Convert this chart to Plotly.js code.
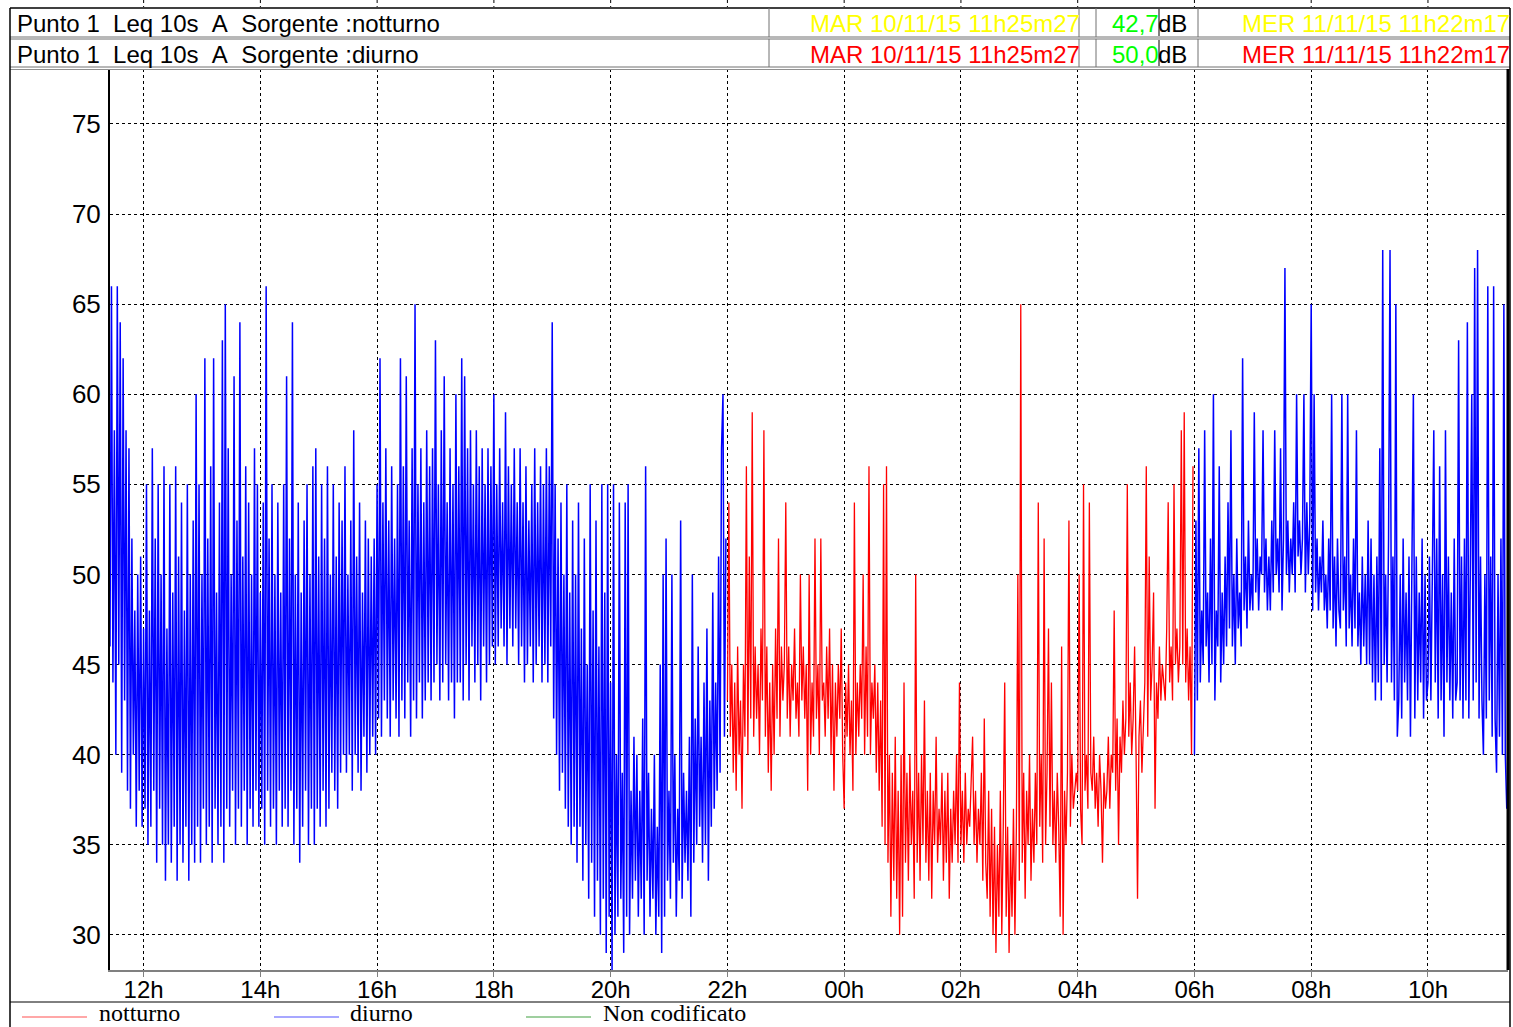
<!DOCTYPE html>
<html><head><meta charset="utf-8">
<script src="https://cdn.plot.ly/plotly-3.0.1.min.js"></script>
<style>html,body{margin:0;padding:0;background:#fff;overflow:hidden}#chart{width:1513px;height:1027px}</style>
</head><body><div id="chart"></div>
<script>
// ---- data (Leq 10s, dB(A)), one value every 90 s ----
const sampleStepH = 0.025;
const diurno1Start = 11.424;   // MAR 10/11/15 11h25m27
const notturnoStart = 22.0;
const diurno2Start = 30.0;     // 06h next day
const axisEnd = 35.371;        // MER 11/11/15 11h22m17

const diurno1 = [
46,66,44,58,40,66,45,64,39,62,43,58,38,57,37,52,40,48,36,50,
38,51,36,47,37,55,35,48,36,57,38,52,34,55,37,50,35,56,33,47,
35,55,34,49,36,56,33,51,35,54,34,48,36,55,33,50,35,53,34,60,
36,55,34,50,37,62,35,52,36,56,34,62,37,49,35,54,36,63,34,65,
37,57,36,50,38,61,35,53,37,64,36,51,38,56,35,54,37,50,36,57,
38,55,36,49,37,54,35,66,38,52,36,55,37,50,35,54,38,49,36,55,
37,61,36,52,38,64,35,50,37,54,34,49,36,53,38,55,35,50,37,56,
35,57,37,51,36,55,38,52,36,56,37,50,39,55,38,51,37,54,39,53,
40,56,39,50,40,53,38,58,40,51,39,54,38,49,41,53,39,52,40,51,
41,52,40,55,42,62,41,54,43,57,42,53,41,56,43,52,42,55,41,62,
43,56,42,61,44,53,41,57,43,65,42,55,44,57,42,54,43,58,44,56,
43,57,44,63,45,55,43,58,44,61,45,54,43,57,44,55,42,60,44,56,
44,62,43,61,45,57,43,58,46,55,44,58,45,56,43,57,46,55,44,57,
45,56,46,60,45,55,46,57,47,54,46,59,45,56,47,55,46,57,47,54,
45,57,46,54,44,56,45,53,46,55,44,57,45,54,46,56,44,55,45,57,
44,56,46,64,42,55,40,52,38,54,39,50,37,55,36,49,35,53,36,50,
34,54,36,47,33,52,35,45,32,55,34,48,31,53,33,46,30,55,32,49,
29,55,31,44,28,55,30,40,31,54,32,39,29,54,31,55,30,38,32,41,
33,40,31,38,32,42,30,56,33,39,31,37,32,40,30,36,31,45,29,50,
31,52,33,38,32,50,34,40,31,37,33,53,32,39,34,38,33,41,31,50,
34,42,35,46,36,41,34,44,35,47,33,43,36,49,37,44,38,51,39,57,
60,41,52];

const notturno = [
43,54,41,45,39,44,38,46,40,43,37,45,41,56,40,51,42,59,41,46,
42,45,40,47,43,58,41,46,39,44,38,45,40,47,42,52,41,46,43,45,
54,42,46,41,45,43,47,42,44,41,50,43,46,42,45,38,50,40,44,41,
52,42,45,40,52,43,44,41,46,42,47,40,45,38,44,41,45,42,47,40,
37,44,41,45,40,43,38,54,40,44,41,45,42,50,40,46,41,56,40,44,
42,45,39,44,38,43,36,55,35,56,34,40,31,39,33,41,32,38,30,40,
31,44,34,39,33,40,35,38,32,50,34,39,33,40,35,43,34,38,33,39,
32,38,35,41,34,37,35,39,33,38,34,39,32,37,34,38,35,40,34,44,
35,38,34,39,35,37,36,38,41,35,38,34,37,35,39,33,42,34,32,38,
31,37,30,36,29,35,31,38,30,36,44,31,36,29,35,31,37,30,36,50,
33,65,34,39,32,38,35,40,33,37,34,39,35,54,36,40,34,52,35,39,
47,36,44,35,38,34,39,36,31,46,30,38,35,39,53,36,40,37,38,39,
38,50,37,35,55,38,40,37,54,39,38,41,37,39,36,40,38,34,39,37,
38,41,37,40,39,48,38,42,35,41,39,43,40,42,55,41,44,40,42,46,
40,32,41,43,39,42,44,56,41,51,43,45,49,37,44,42,46,43,45,44,
43,47,54,44,46,43,55,45,47,44,46,58,45,59,44,47,43,46,40,56];

const diurno2 = [
40,53,43,57,44,48,45,58,46,49,44,52,45,60,43,48,46,56,44,49,
45,51,46,54,47,58,46,50,45,52,47,49,46,62,48,51,47,53,48,50,
48,59,49,52,48,51,50,58,49,52,48,51,48,53,49,58,50,52,49,57,
48,52,67,50,53,49,52,50,54,49,60,51,53,50,52,60,49,54,50,53,
65,48,60,49,52,48,51,49,53,48,50,47,52,48,60,47,51,46,52,48,
47,60,48,51,46,60,47,50,46,52,47,58,46,49,45,51,46,50,45,53,
45,52,44,50,43,51,44,57,43,68,45,50,44,52,68,44,51,43,65,41,
43,50,42,52,44,49,43,51,41,50,60,42,51,43,49,44,52,42,50,43,
44,51,43,50,58,44,52,42,56,43,50,41,58,44,51,43,49,42,52,43,
44,63,43,51,42,52,43,64,42,50,60,43,67,44,68,42,51,43,40,50,
42,66,43,51,41,66,42,39,50,41,52,40,65,40,37];

const tickHours = [12,14,16,18,20,22,24,26,28,30,32,34];
const tickLabels = ['12h','14h','16h','18h','20h','22h','00h','02h','04h','06h','08h','10h'];
const yTicks = [30,35,40,45,50,55,60,65,70,75];

const headerRows = [
  {label:'Punto 1  Leq 10s  A  Sorgente :notturno', start:'MAR 10/11/15 11h25m27', value:'42,7', unit:'dB', end:'MER 11/11/15 11h22m17', color:'#ffff00'},
  {label:'Punto 1  Leq 10s  A  Sorgente :diurno',   start:'MAR 10/11/15 11h25m27', value:'50,0', unit:'dB', end:'MER 11/11/15 11h22m17', color:'#ff0000'}
];
const legendNames = ['notturno','diurno','Non codificato'];
const legendColors = ['#ff5050','#5050ff','#40a040'];

// ---- layout helpers ----
const W = 1513, H = 1027, L = 110, R = 5, T = 69, B = 57;
const PW = W - L - R, PH = H - T - B;
const px = x => (x - L) / PW;
const py = y => (H - B - y) / PH;
const NARROW = '"Liberation Sans Narrow","Arial Narrow","Liberation Sans",Arial,sans-serif';
const SERIF = '"Liberation Serif","Times New Roman",serif';
const nb = s => s.replace(/ /g, '\u00a0');

const times = (start, arr) => arr.map((v, i) => start + i * sampleStepH);

const traces = [
  {x: times(diurno1Start, diurno1), y: diurno1, type:'scatter', mode:'lines', line:{color:'#0000ff', width:1.5}, hoverinfo:'skip', name:'diurno'},
  {x: times(notturnoStart, notturno), y: notturno, type:'scatter', mode:'lines', line:{color:'#ff0000', width:1.3}, hoverinfo:'skip', name:'notturno'},
  {x: times(diurno2Start, diurno2), y: diurno2, type:'scatter', mode:'lines', line:{color:'#0000ff', width:1.5}, hoverinfo:'skip', name:'diurno'}
];

const shapes = [];
const line = (x0,y0,x1,y1,color,width,dash) => shapes.push({type:'line', xref:'paper', yref:'paper',
  x0:px(x0), y0:py(y0), x1:px(x1), y1:py(y1), line:{color:color, width:width, dash:dash||'solid'}, layer:'above'});

// header frame
line(10,8,1510,8,'#404040',2);
line(10,37,1510,37,'#707070',1);
line(10,39,1510,39,'#707070',1);
line(10,67,1510,67,'#707070',1);
line(10,69.5,1510,69.5,'#909090',1);
const rowsY = [[8,37],[39,67]];
rowsY.forEach(([a,b]) => {
  [769,1079,1096,1198].forEach(x => line(x,a,x,b,'#707070',1));
  line(1159,a+1,1159,b-1,'#000000',1);
});
// outer frame
line(10,8,10,1027,'#000000',1.5);
line(1510,8,1510,1027,'#000000',1.5);
line(10,1002,1510,1002,'#000000',1);
// right border of plot
line(1508,69,1508,970,'#000000',3);
// legend samples
[[22,87],[274,339],[526,591]].forEach((s,i) => line(s[0],1017,s[1],1017,legendColors[i],1.2));
// grid stubs above header
tickHours.forEach(h => shapes.push({type:'line', xref:'x', yref:'paper', x0:h, x1:h, y0:py(0), y1:py(7),
  line:{color:'#000', width:1, dash:'dot'}}));

const annotations = [];
const txt = (text,x,y,anchor,color,size,family) => annotations.push({text:nb(text), xref:'paper', yref:'paper',
  x:px(x), y:py(y), xanchor:anchor, yanchor:'middle', showarrow:false,
  font:{family:family||NARROW, size:size||24, color:color||'#000'}});
headerRows.forEach((r,i) => {
  const yc = i === 0 ? 23 : 54;
  txt(r.label, 15, yc, 'left', '#000');
  txt(r.start, 1082, yc, 'right', r.color);
  txt(r.value, 1161, yc, 'right', '#00ff00');
  txt(r.unit, 1156, yc, 'left', '#000');
  txt(r.end, 1512, yc, 'right', r.color);
});
const legendX = [97, 348, 601];
legendNames.forEach((n,i) => txt(n, legendX[i], 1013, 'left', '#000', 24, SERIF));

const layout = {
  width: W, height: H,
  margin: {l:L, r:R, t:T, b:B, pad:0},
  paper_bgcolor:'#fff', plot_bgcolor:'#fff',
  showlegend:false,
  xaxis: {range:[diurno1Start, axisEnd], tickvals:tickHours, ticktext:tickLabels,
    showgrid:true, gridcolor:'#000', griddash:'dot', gridwidth:1, zeroline:false,
    showline:true, linecolor:'#808080', linewidth:2,
    ticks:'outside', ticklen:5, tickcolor:'#808080', tickwidth:1, ticklabelstandoff:-8,
    tickfont:{family:NARROW, size:24, color:'#000'}, fixedrange:true},
  yaxis: {range:[28.05, 78.05], tickvals:yTicks, ticktext:yTicks.map(String),
    showgrid:true, gridcolor:'#000', griddash:'dot', gridwidth:1, zeroline:false,
    showline:true, linecolor:'#000', linewidth:2, ticks:'', ticklabelstandoff:2,
    tickfont:{family:NARROW, size:26, color:'#000'}, fixedrange:true},
  shapes: shapes,
  annotations: annotations
};

Plotly.newPlot('chart', traces, layout, {staticPlot:true, displayModeBar:false});
</script></body></html>
